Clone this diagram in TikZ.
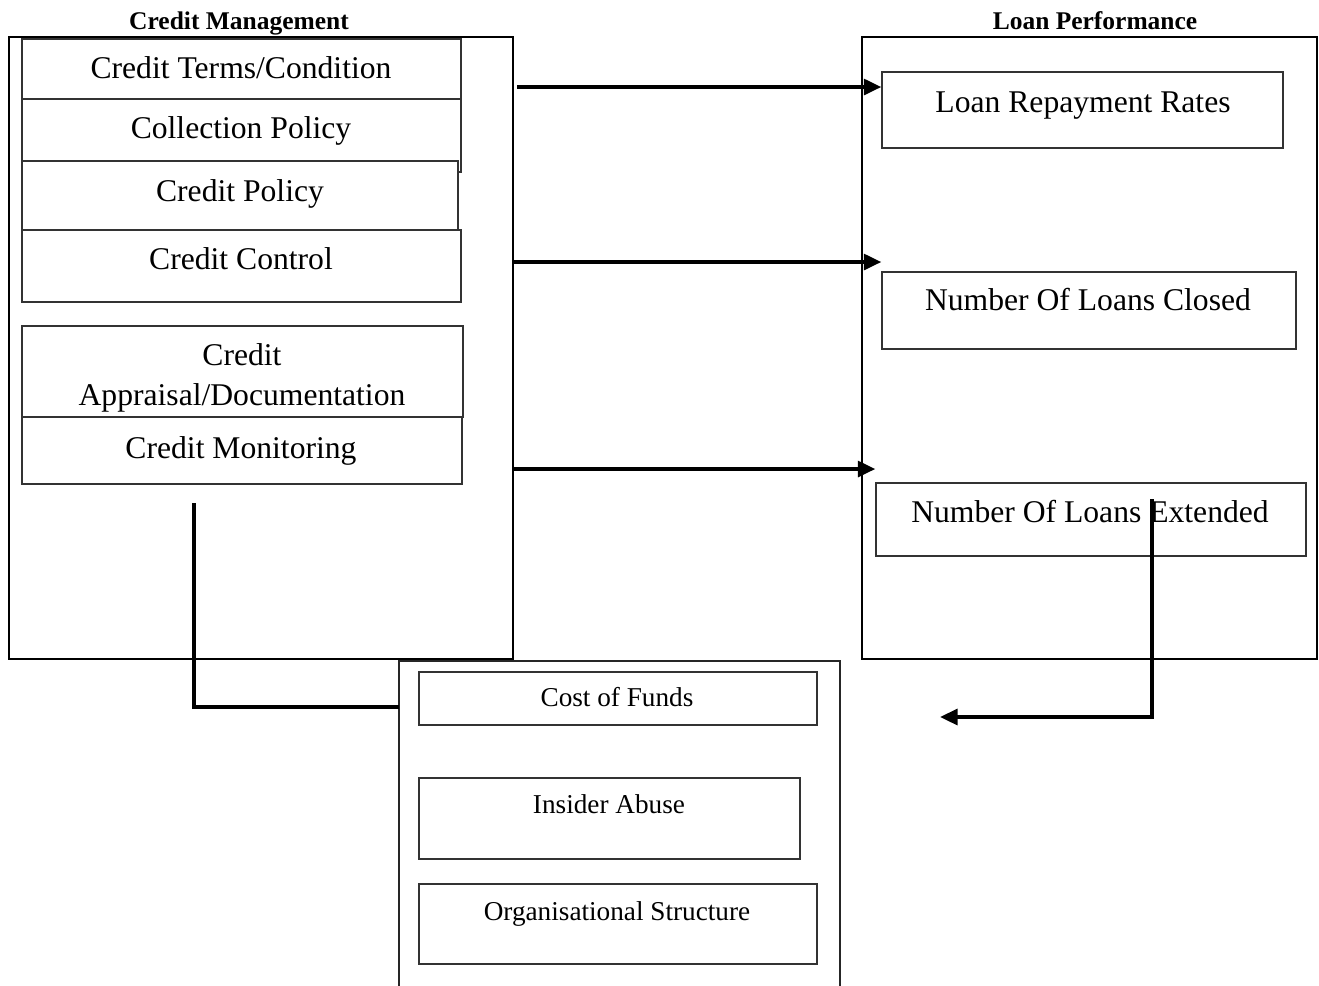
\documentclass[tikz,border=0pt]{standalone}
\usepackage{fontspec}
\setmainfont{Liberation Serif}
\usetikzlibrary{fit,arrows.meta}
\def\cellbox{\node[draw=black!80,line width=0.75pt,fill=white,inner sep=0pt]}
\def\celltext{\node[anchor=base,inner sep=0pt,font=\fontsize{18}{20}\selectfont]}
\def\risktext{\node[anchor=base,inner sep=0pt,font=\fontsize{15.5}{18}\selectfont]}
\def\drawlink{\draw[line width=2.1pt,-{Triangle[length=10pt,width=9pt]}]}

\begin{document}
\begin{tikzpicture}[x=0.02cm,y=-0.02cm,
  frame/.style={draw,line width=1.6pt,inner sep=0pt},
  head/.style={anchor=base,inner sep=0pt,font=\bfseries\fontsize{14.5}{16}\selectfont}]
\useasboundingbox (0,0) rectangle (1319,985);
% outer frames
\node[frame,fit={(9,37) (513,659)}] (cm) {};
\node[frame,fit={(862,37) (1317,659)}] (lp) {};
\node[inner sep=0pt,fit={(399,661) (840,992)}] (risk) {};
\draw[line width=1pt,black!85] (risk.south west) -- (risk.north west) -- (risk.north east) -- (risk.south east);
\node[head] (cmhead) at (239,29) {Credit Management};
\node[head] (lphead) at (1095,29) {Loan Performance};
% credit management
\cellbox[fit={(22,39) (461,99)}] (terms) {};
\cellbox[fit={(22,99) (461,172)}] (collect) {};
\cellbox[fit={(22,161) (458,230)}] (policy) {};
\cellbox[fit={(22,230) (461,302)}] (control) {};
\cellbox[fit={(22,326) (463,417)}] (appraise) {};
\cellbox[fit={(22,417) (462,484)}] (monitor) {};
\celltext (termsT) at (241,78) {Credit Terms/Condition};
\celltext (collectT) at (241,138) {Collection Policy};
\celltext (policyT) at (240,201) {Credit Policy};
\celltext (controlT) at (241,269) {Credit Control};
\celltext (appraiseA) at (242,365) {Credit};
\celltext (appraiseB) at (242,405) {Appraisal/Documentation};
\celltext (monitorT) at (241,458) {Credit Monitoring};
% loan performance
\cellbox[fit={(882,72) (1283,148)}] (repay) {};
\cellbox[fit={(882,272) (1296,349)}] (closed) {};
\cellbox[fit={(876,483) (1306,556)}] (extend) {};
\celltext (repayT) at (1083,112) {Loan Repayment Rates};
\celltext (closedT) at (1088,310) {Number Of Loans Closed};
\celltext (extendT) at (1090,522) {Number Of Loans Extended};
% other factors
\cellbox[fit={(419,672) (817,725)}] (funds) {};
\cellbox[fit={(419,778) (800,859)}] (abuse) {};
\cellbox[fit={(419,884) (817,964)}] (structure) {};
\risktext (fundsT) at (617,706) {Cost of Funds};
\risktext (abuseT) at (609,813) {Insider Abuse};
\risktext (structureT) at (617,920) {Organisational Structure};
% links
\coordinate (a1) at (517,87);
\coordinate (a2) at (514,262);
\coordinate (a3) at (514,469);
\coordinate (m1) at (194,503);
\coordinate (m2) at (399,707);
\coordinate (f1) at (1152,499);
\coordinate (f2) at (940,717);
\drawlink (a1) -- (a1 -| repay.west);
\drawlink (a2) -- (a2 -| closed.west);
\drawlink (a3) -- (a3 -| extend.west);
\draw[line width=2.1pt] (m1) |- (m2);
\drawlink (f1) |- (f2);
\end{tikzpicture}
\end{document}
